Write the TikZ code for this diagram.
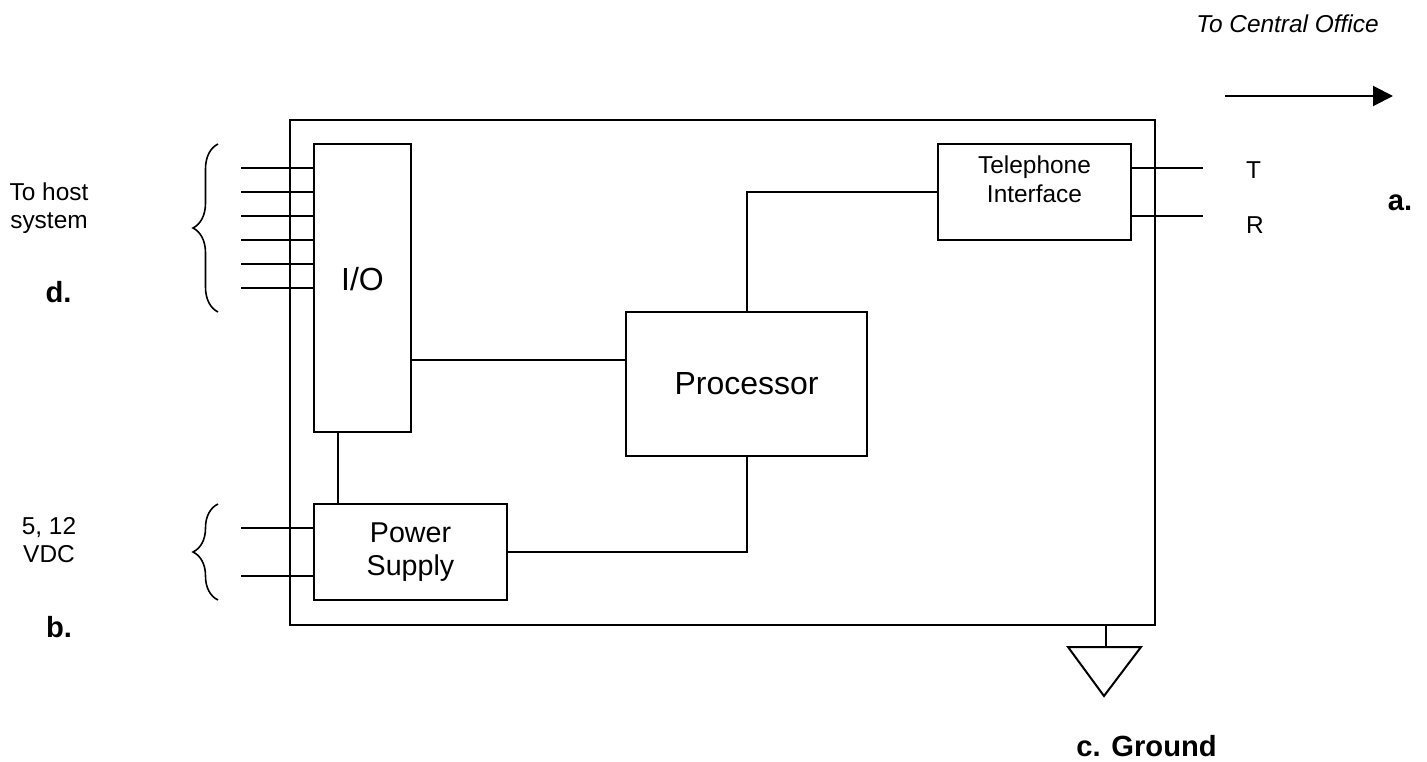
\documentclass[tikz,border=0pt]{standalone}
\usepackage{fontspec}
\setmainfont{Liberation Sans}
\usetikzlibrary{arrows.meta,positioning,decorations.pathreplacing}
\newcommand{\SmallFont}{\fontsize{13.9}{15.6}\selectfont}
\newcommand{\MediumFont}{\fontsize{16.3}{18.7}\selectfont}
\newcommand{\LargeFont}{\fontsize{18.2}{24}\selectfont}
\newcommand{\MarkFont}{\fontsize{16.6}{19}\selectfont\bfseries}

\begin{document}
\begin{tikzpicture}[
    line width=0.04cm,
    every node/.style={align=center,inner sep=0pt,outer sep=0pt},
    box/.style={draw,minimum width=3.86cm,minimum height=1.92cm,font=\LargeFont},
    wire/.style={draw=black},
    curly/.style={line width=0.032cm,decorate,decoration={brace,amplitude=0.5cm}},
    caption/.style={font=\SmallFont},
    letter/.style={font=\MarkFont}
]
\useasboundingbox (0,0) rectangle (28.54,-15.24);

\node[draw,anchor=north west,minimum width=17.3cm,minimum height=10.1cm] (chassis) at (5.8,-2.4) {};
\node[box,minimum width=1.94cm,minimum height=5.76cm,text depth=0.38cm,below right=0.48cm and 0.48cm of chassis.north west] (io) {I/O};
\node[box,font=\MediumFont,above right=0.5cm and 0.48cm of chassis.south west] (power) {Power\\Supply};
\node[box,text depth=0.5cm,below left=0.48cm and 0.48cm of chassis.north east,font=\SmallFont] (phone) {Telephone\\[0.03cm]Interface};
\node[box,minimum width=4.82cm,minimum height=2.88cm,below right=3.36cm and 4.3cm of io.north east] (processor) {Processor};

% internal wiring
\coordinate (procport) at ([yshift=0.48cm]processor.west);
\coordinate (iofoot) at ([xshift=0.48cm]io.south west);
\draw[wire] (io.east |- procport) -- (procport);
\draw[wire] (iofoot) -- (iofoot |- power.north);
\draw[wire] (processor.north) |- (phone.west);
\draw[wire] (power.east) -| (processor.south);

% host lines
\foreach \i in {1,...,6} {
    \coordinate (iopin\i) at ([yshift=-0.48*\i cm]io.north west);
    \coordinate (hostpin\i) at ([xshift=-1.46cm]iopin\i);
    \draw[wire] (hostpin\i) -- (iopin\i);
}
% supply lines
\foreach \i in {1,3} {
    \coordinate (powerpin\i) at ([yshift=-0.48*\i cm]power.north west);
    \coordinate (dcpin\i) at ([xshift=-1.46cm]powerpin\i);
    \draw[wire] (dcpin\i) -- (powerpin\i);
}
% line side
\coordinate (tippin) at ([yshift=-0.48cm]phone.north east);
\coordinate (ringpin) at ([yshift=0.48cm]phone.south east);
\node[caption,right=2.3cm of tippin,yshift=-0.04cm] (tip) {T};
\node[caption,right=2.3cm of ringpin,yshift=-0.18cm] (ring) {R};
\coordinate (tipend) at ([xshift=1.44cm]tippin);
\coordinate (ringend) at ([xshift=1.44cm]ringpin);
\draw[wire] (tippin) -- (tipend);
\draw[wire] (ringpin) -- (ringend);

% braces
\coordinate (hosttop) at (4.36,-2.88);
\coordinate (hostbot) at (4.36,-6.24);
\coordinate (dctop) at (4.36,-10.08);
\coordinate (dcbot) at (4.36,-12);
\draw[curly] (hostbot) -- (hosttop);
\draw[curly] (dcbot) -- (dctop);

% ground
\coordinate (gndtop) at ([xshift=-0.98cm]chassis.south east);
\coordinate (gndbar) at ([yshift=-0.44cm]gndtop);
\coordinate (gndleft) at ([xshift=-0.76cm]gndbar);
\coordinate (gndright) at ([xshift=0.7cm]gndbar);
\coordinate (gndtip) at ([xshift=-0.04cm,yshift=-0.98cm]gndbar);
\draw[wire] (gndtop) -- (gndbar);
\draw[wire,line join=miter] (gndleft) -- (gndright) -- (gndtip) -- cycle;

% central office arrow
\coordinate (coleft) at (24.5,-1.92);
\coordinate (coright) at (27.86,-1.92);
\draw[wire,-{Triangle[length=0.4cm,width=0.4cm]}] (coleft) -- (coright);

% captions
\node[font=\SmallFont\itshape] (office) at (25.75,-0.48) {To Central Office};
\node[caption] (host) at (0.98,-4.16) {To host\\system};
\node[caption] (volts) at (0.98,-10.8) {5, 12\\VDC};
\node[letter] (marka) at (28.0,-4.06) {a.};
\node[letter] (markb) at (1.18,-12.55) {b.};
\node[letter] (markc) at (22.93,-14.93) {c. Ground};
\node[letter] (markd) at (1.17,-5.84) {d.};
\end{tikzpicture}
\end{document}
